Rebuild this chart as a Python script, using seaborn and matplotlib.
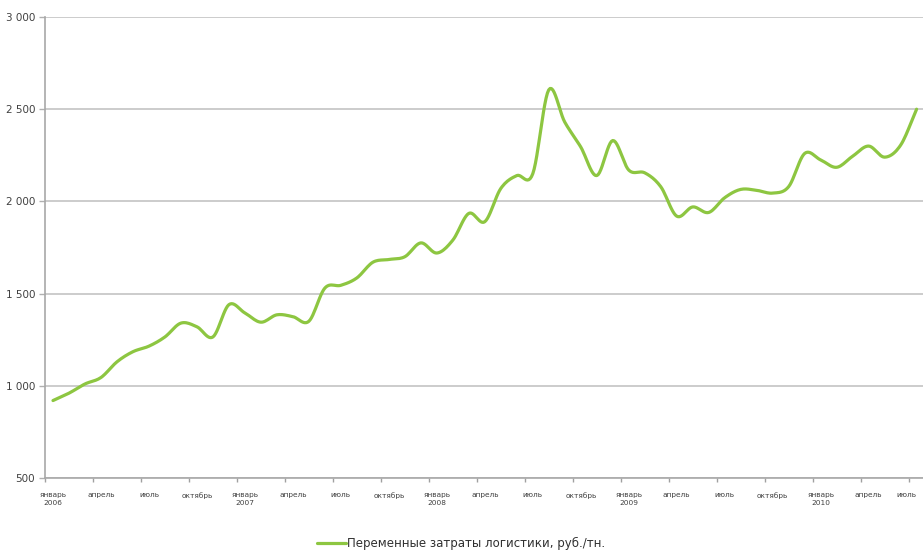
import numpy as np
import pandas as pd
import matplotlib
matplotlib.use("Agg")
import matplotlib.pyplot as plt
import seaborn as sns

# Monthly variable logistics costs, Jan 2006 - Jul 2010 (rub./t)
costs = [
    920, 960, 1010, 1045, 1130, 1185, 1215, 1265, 1340, 1320, 1265, 1440,
    1395, 1345, 1385, 1375, 1350, 1530, 1545, 1585, 1670, 1685, 1700, 1775,
    1720, 1790, 1935, 1890, 2070, 2140, 2150, 2605, 2430, 2295, 2140, 2330,
    2170, 2155, 2080, 1920, 1970, 1940, 2020, 2065, 2060, 2045, 2080, 2260,
    2225, 2185, 2245, 2300, 2240, 2305, 2500,
]
tick_labels = [
    "январь\n2006", "апрель", "июль", "октябрь",
    "январь\n2007", "апрель", "июль", "октябрь",
    "январь\n2008", "апрель", "июль", "октябрь",
    "январь\n2009", "апрель", "июль", "октябрь",
    "январь\n2010", "апрель", "июль",
]
y_ticks = [500, 1000, 1500, 2000, 2500, 3000]
series_name = "Переменные затраты логистики, руб./тн."

month_idx = np.arange(len(costs))


def smooth(x, y, per=12):
    """Catmull-Rom curve through the monthly points, like a smoothed line."""
    x = np.asarray(x, float)
    y = np.asarray(y, float)
    px = np.concatenate([[2 * x[0] - x[1]], x, [2 * x[-1] - x[-2]]])
    py = np.concatenate([[2 * y[0] - y[1]], y, [2 * y[-1] - y[-2]]])
    xs, ys = [], []
    t = np.linspace(0, 1, per, endpoint=False)
    for i in range(1, len(px) - 2):
        for p, out in ((px, xs), (py, ys)):
            p0, p1, p2, p3 = p[i - 1], p[i], p[i + 1], p[i + 2]
            out.append(0.5 * ((2 * p1) + (-p0 + p2) * t
                              + (2 * p0 - 5 * p1 + 4 * p2 - p3) * t ** 2
                              + (-p0 + 3 * p1 - 3 * p2 + p3) * t ** 3))
    xs.append([x[-1]])
    ys.append([y[-1]])
    return np.concatenate(xs), np.concatenate(ys)


sx, sy = smooth(month_idx, costs)
df = pd.DataFrame({"month": sx, "cost": sy, "series": series_name})

sns.set_theme(style="white")
plt.rcParams["font.family"] = ["DejaVu Sans"]

fig = plt.figure(figsize=(9.23, 5.54), dpi=100)
ax = fig.add_axes([45 / 923, 1 - 478 / 554, 878 / 923, (478 - 17) / 554])

sns.lineplot(data=df, x="month", y="cost", hue="series", sort=False,
             palette=["#8dc641"], linewidth=2.3, ax=ax, legend=True)

ax.set_xlim(-0.45, 54.4)
ax.set_ylim(500, 3000)
ax.set_yticks(y_ticks)
ax.set_yticklabels([f"{v:,}".replace(",", " ") for v in y_ticks],
                   fontsize=7.5, color="#404040")
ax.yaxis.grid(True, color="#c8c8c8", linewidth=1.3)
ax.xaxis.grid(False)

# category labels on the months, tick marks between categories
ax.set_xticks(np.arange(0, len(costs), 3))
ax.set_xticklabels(tick_labels, fontsize=5.3, color="#404040", linespacing=1.5)
ax.get_xticklabels()[-1].set_horizontalalignment("right")
ax.get_xticklabels()[-1].set_x(54.4)
ax.set_xticks(np.arange(0, len(costs), 3) - 0.5, minor=True)
ax.tick_params(axis="x", which="major", length=0, pad=10)
ax.tick_params(axis="x", which="minor", length=3, color="#a0a0a0", width=1,
               direction="out", bottom=True)
ax.tick_params(axis="y", length=4, color="#b0b0b0", width=1, left=True, pad=3)

for side in ("top", "right"):
    ax.spines[side].set_visible(False)
for side in ("left", "bottom"):
    ax.spines[side].set_color("#a8a8a8")
    ax.spines[side].set_linewidth(1.2)

ax.set_xlabel("")
ax.set_ylabel("")

leg = ax.legend(loc="center", bbox_to_anchor=(0.474, -0.143), frameon=False,
                fontsize=8.5, handlelength=2.5, handletextpad=0.1,
                borderpad=0.1)
for txt in leg.get_texts():
    txt.set_color("#303030")
for line in leg.get_lines():
    line.set_linewidth(2.3)

fig.savefig("out.png", dpi=100)
